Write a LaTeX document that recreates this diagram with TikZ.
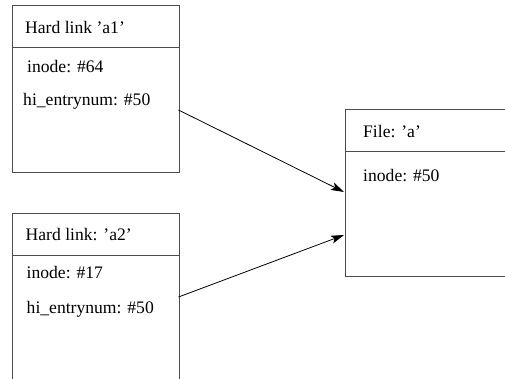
\documentclass[tikz,border=0pt]{standalone}
\usepackage{fontspec}
\setmainfont{Liberation Serif}
\usetikzlibrary{arrows.meta}
\begin{document}
\begin{tikzpicture}[x=1pt,y=-1pt,
 box/.style={draw=black!70, line width=0.9pt, rectangle, inner sep=0pt, anchor=north west},
 lbl/.style={anchor=base west, inner sep=0pt, font=\fontsize{17.6}{20}\selectfont},
 sep/.style={draw=black!70, line width=0.9pt},
 link/.style={draw=black, line width=0.8pt, -{Stealth[length=13pt,width=8pt,inset=3pt]}}]
\useasboundingbox (0,0) rectangle (505,378);
\clip (0,0) rectangle (505,378);
% boxes
\node[box, minimum width=167pt, minimum height=167pt] (a1) at (11.5,5) {};
\node[box, minimum width=167pt, minimum height=200pt] (a2) at (11.5,213) {};
\node[box, minimum width=200pt, minimum height=167pt] (f) at (344.5,109) {};
% header separators
\coordinate (h1l) at (11.5,47);  \coordinate (h1r) at (178.5,47);
\coordinate (h2l) at (11.5,255); \coordinate (h2r) at (178.5,255);
\coordinate (hfl) at (344.5,151); \coordinate (hfr) at (545,151);
\draw[sep] (h1l) -- (h1r);
\draw[sep] (h2l) -- (h2r);
\draw[sep] (hfl) -- (hfr);
% texts
\node[lbl] (t1) at (25,33) {Hard link 'a1'};
\node[lbl] (t1i) at (27,72.5) {inode: \#64};
\node[lbl] (t1h) at (23,105.5) {hi\_entrynum: \#50};
\node[lbl] (t2) at (25.5,240) {Hard link: 'a2'};
\node[lbl] (t2i) at (26.5,278) {inode: \#17};
\node[lbl] (t2h) at (26.5,313) {hi\_entrynum: \#50};
\node[lbl] (tf) at (363,137.5) {File: 'a'};
\node[lbl] (tfi) at (363,181.5) {inode: \#50};
% connectors
\coordinate (s1) at (178.5,110);
\coordinate (e1) at (344,192);
\coordinate (s2) at (178.5,297);
\coordinate (e2) at (344,235);
\draw[link] (s1) -- (e1);
\draw[link] (s2) -- (e2);
\end{tikzpicture}
\end{document}
